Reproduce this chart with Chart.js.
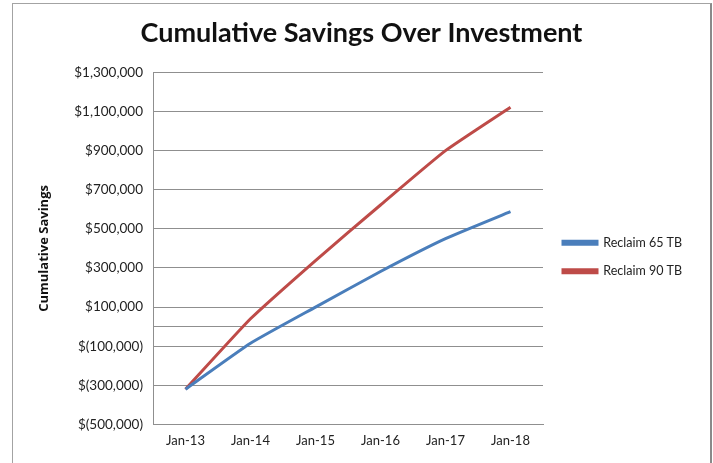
<!DOCTYPE html>
<html>
<head>
<meta charset="utf-8">
<script src="https://cdn.jsdelivr.net/npm/chart.js@4.4.1/dist/chart.umd.min.js"></script>
<style>
  html, body { margin: 0; padding: 0; background: #ffffff; }
  #wrap { position: relative; width: 713px; height: 463px; overflow: hidden; background: #fff; }
  #frame { position: absolute; left: 12px; top: 3px; width: 697px; height: 470px;
           border-left: 1px solid #a3a3a3; border-top: 1px solid #a3a3a3; border-right: 2px solid #8a8a8a; }
  #c { position: absolute; left: 0; top: 0; }
</style>
</head>
<body>
<div id="wrap">
  <div id="frame"></div>
  <canvas id="c" width="713" height="463"></canvas>
</div>
<script>
const categories = ['Jan-13', 'Jan-14', 'Jan-15', 'Jan-16', 'Jan-17', 'Jan-18'];
const reclaim65 = [-320000, -85000, 100000, 282000, 450000, 588000];
const reclaim90 = [-320000, 40000, 338000, 622000, 900000, 1122000];
const yTickValues = [-500000, -300000, -100000, 0, 100000, 300000, 500000, 700000, 900000, 1100000, 1300000];
const labeledTicks = [-500000, -300000, -100000, 100000, 300000, 500000, 700000, 900000, 1100000, 1300000];

function fmtMoney(v) {
  const s = Math.abs(v).toLocaleString('en-US');
  return v < 0 ? '$(' + s + ')' : '$' + s;
}

const BLUE = '#4A7EBB';
const RED = '#BE4B48';

const legendLayout = {
  id: 'legendLayout',
  afterInit(chart) {
    const lg = chart.legend;
    if (!lg) return;
    const origFit = lg.fit.bind(lg);
    lg.fit = function () { origFit(); this.width = 170; };
  },
  afterLayout(chart) {
    const lg = chart.legend;
    if (!lg) return;
    lg.left += 4; lg.right += 4;
    lg.top += 28; lg.bottom += 28;
  }
};

new Chart(document.getElementById('c'), {
  type: 'line',
  data: {
    labels: categories,
    datasets: [
      { label: 'Reclaim 65 TB', data: reclaim65, borderColor: BLUE, backgroundColor: BLUE,
        borderWidth: 3, pointRadius: 0, tension: 0.15, fill: false },
      { label: 'Reclaim 90 TB', data: reclaim90, borderColor: RED, backgroundColor: RED,
        borderWidth: 3, pointRadius: 0, tension: 0.15, fill: false }
    ]
  },
  plugins: [legendLayout],
  options: {
    responsive: false,
    animation: false,
    layout: { padding: { left: 10, right: 0, top: 0, bottom: 5 } },
    plugins: {
      title: {
        display: true,
        text: 'Cumulative Savings Over Investment',
        color: '#111',
        font: { family: 'Lato', size: 27, weight: 'bold' },
        padding: { top: 17, bottom: 23 }
      },
      legend: {
        position: 'right',
        align: 'center',
        labels: {
          boxWidth: 34, boxHeight: 3,
          color: '#222',
          font: { family: 'Lato', size: 12.5 },
          padding: 16
        }
      },
      tooltip: { enabled: false }
    },
    scales: {
      x: {
        type: 'category',
        offset: true,
        grid: { display: false, drawTicks: false },
        border: { display: true, color: '#8f8f8f', width: 1 },
        ticks: { color: '#222', font: { family: 'Lato', size: 13 }, padding: 9, maxRotation: 0 }
      },
      y: {
        min: -500000, max: 1300000,
        afterBuildTicks: (scale) => { scale.ticks = yTickValues.map(v => ({ value: v })); },
        afterFit: (scale) => { scale.width = 143; },
        grid: { color: '#8f8f8f', lineWidth: 1, drawTicks: false },
        border: { display: true, color: '#8f8f8f', width: 1 },
        ticks: {
          color: '#222', font: { family: 'Lato', size: 13.5 }, padding: 10,
          callback: (v) => labeledTicks.includes(v) ? fmtMoney(v) : ''
        },
        title: {
          display: true, text: 'Cumulative Savings', color: '#111',
          font: { family: 'Open Sans', size: 13, weight: 'bold' },
          padding: { top: 26, bottom: 0 }
        }
      }
    }
  }
});
</script>
</body>
</html>
